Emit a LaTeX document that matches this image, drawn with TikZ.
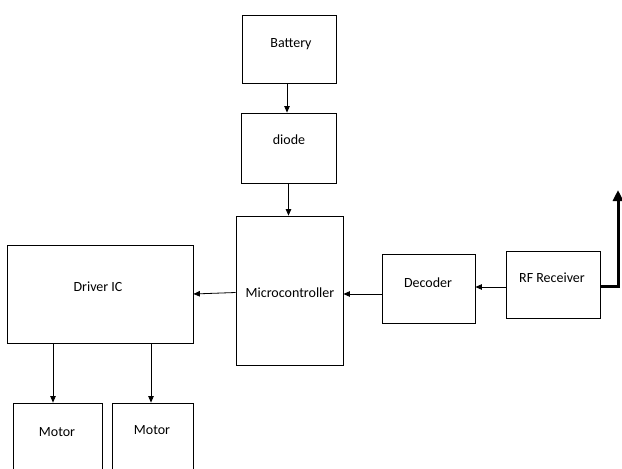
\documentclass[tikz,border=0pt]{standalone}
\usepackage{fontspec}
\setmainfont{Carlito}
\usetikzlibrary{arrows.meta}
\tikzstyle{blk}=[rectangle, draw, line width=0.8pt, inner sep=0pt]
\tikzstyle{lbl}=[inner sep=0pt, font=\fontsize{14}{16}\selectfont]
\tikzstyle{arr}=[line width=0.8pt, -{Triangle[width=5.5pt,length=6.5pt]}]

\begin{document}
\begin{tikzpicture}[x=1pt, y=-1pt]

\useasboundingbox (0,0) rectangle (622,469);
\clip (0,0) rectangle (622,469);

\node[blk, minimum width=94, minimum height=68] (bat) at (289,49) {};
\node[lbl] (tbat) at (291,44) {Battery};

\node[blk, minimum width=95, minimum height=70] (dio) at (288.5,148) {};
\node[lbl] (tdio) at (289,140) {diode};

\node[blk, minimum width=107, minimum height=149] (mcu) at (289.5,290.5) {};
\node[lbl] (tmcu) at (290,293) {Microcontroller};

\node[blk, minimum width=186, minimum height=98] (drv) at (100,294) {};
\node[lbl] (tdrv) at (98,287) {Driver IC};

\node[blk, minimum width=89, minimum height=77] (m1) at (57.5,441.5) {};
\node[lbl] (tm1) at (57,432) {Motor};
\node[blk, minimum width=81, minimum height=77] (m2) at (152.5,441.5) {};
\node[lbl] (tm2) at (152,430) {Motor};

\node[blk, minimum width=93, minimum height=69] (dec) at (428.5,288.5) {};
\node[lbl] (tdec) at (428,283) {Decoder};

\node[blk, minimum width=94, minimum height=67] (rf) at (553,284.5) {};
\node[lbl] (trf) at (552,278) {RF Receiver};

\coordinate (ant) at (618,190);

\draw[arr] ([xshift=-2]bat.south) -- ([xshift=-1.5]dio.north);
\draw[arr] (dio.south) -- (dio.south |- mcu.north);
\draw[arr] ([yshift=-2]mcu.west) -- (drv.east);
\draw[arr] ([yshift=-5.5]dec.west) -- ([yshift=-3.5]mcu.east);
\draw[arr] ([yshift=-2.5]rf.west) -- ([yshift=1.5]dec.east);
\draw[arr] ([xshift=-4.5]m1.north |- drv.south) -- ([xshift=-4.5]m1.north);
\draw[arr] ([xshift=-1.5]m2.north |- drv.south) -- ([xshift=-1.5]m2.north);
\draw[line width=3pt, -{Triangle[width=10pt,length=11pt]}] ([yshift=-1.5]rf.east) -| (ant);

\end{tikzpicture}
\end{document}
